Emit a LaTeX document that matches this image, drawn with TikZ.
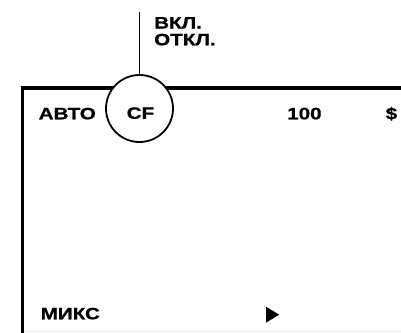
\documentclass[tikz,border=0pt]{standalone}
\usepackage{fontspec}
\setmainfont{Liberation Sans}[FakeStretch=1.25,BoldFeatures={FakeBold=0.8}]
\begin{document}
\begin{tikzpicture}[x=1bp,y=-1bp,
  lbl/.style={anchor=base west,inner sep=0pt,font=\fontsize{16.5bp}{19bp}\selectfont\bfseries},
  frame/.style={line width=3.5bp,line join=miter},
  ring/.style={circle,draw,line width=1.8bp,fill=white,minimum size=67bp,inner sep=0pt}]
\useasboundingbox (0,0) rectangle (401,333);
\draw[gray!15,line width=1bp] (22.5,331.7) -- (401,331.7);
\draw[frame] (401,88) -- (22.5,88) -- (22.5,333);
\node[ring] (cf) at (139.5,108.5) {};
\coordinate (top) at (139.5,12);
\draw[line width=1.5bp] (cf.north) -- (top);
\node[lbl] (on) at (154,28.5) {ВКЛ.};
\node[lbl] (off) at (154,45.3) {ОТКЛ.};
\node[lbl] (auto) at (38.5,119.3) {АВТО};
\node[lbl] (cft) at (126.5,118.8) {CF};
\node[lbl] (hund) at (287,119.3) {100};
\node[lbl] (dol) at (385.5,119.3) {\$};
\node[lbl] (mix) at (40.5,319.3) {МИКС};
\fill (266,306.7) -- (279.3,314.7) -- (266,322.7) -- cycle;
\end{tikzpicture}
\end{document}
